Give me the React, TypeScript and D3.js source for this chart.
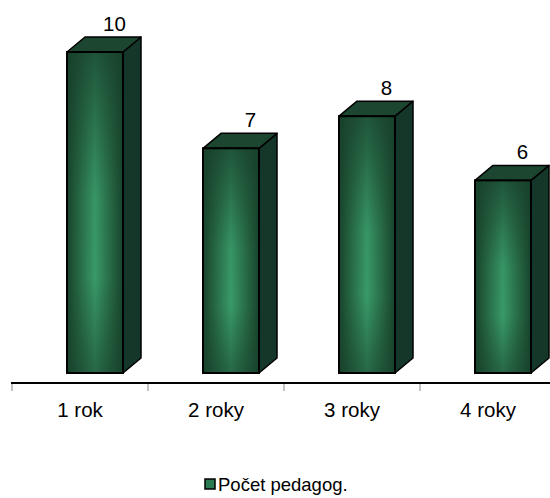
import React from "react";
import * as d3 from "d3";

const categories = ["1 rok", "2 roky", "3 roky", "4 roky"];
const values = [10, 7, 8, 6];
const seriesName = "Počet pedagog.";

const W = 550;
const H = 498;
const DX = 18;
const DY = -15;

export default function App() {
  const x = d3.scaleBand<string>().domain(categories).range([12, 556]).paddingInner(0).paddingOuter(0);
  const y = d3.scaleLinear().domain([0, 10]).range([373, 52]);
  const frontW = 56;
  const frontOffset = 55;
  const font = "'Liberation Sans', Arial, sans-serif";

  return (
    <svg width={W} height={H} style={{ position: "absolute", left: 0, top: 0 }}>
      <defs>
        <linearGradient id="frontH" x1="0" x2="1" y1="0" y2="0">
          <stop offset="0" stopColor="#17442d" />
          <stop offset="0.15" stopColor="#225d3c" />
          <stop offset="0.5" stopColor="#399a69" />
          <stop offset="0.85" stopColor="#225d3c" />
          <stop offset="1" stopColor="#17442d" />
        </linearGradient>
        <linearGradient id="frontV" x1="0" x2="0" y1="0" y2="1">
          <stop offset="0" stopColor="#173e2a" stopOpacity="0.75" />
          <stop offset="0.45" stopColor="#173e2a" stopOpacity="0.05" />
          <stop offset="0.7" stopColor="#173e2a" stopOpacity="0" />
          <stop offset="1" stopColor="#173e2a" stopOpacity="0.55" />
        </linearGradient>
      </defs>
      <rect width={W} height={H} fill="#ffffff" />
      {categories.map((c, i) => {
        const x0 = (x(c) as number) + frontOffset;
        const x1 = x0 + frontW;
        const yt = y(values[i]);
        const yb = y(0);
        return (
          <g key={c}>
            <polygon
              points={`${x1},${yt} ${x1 + DX},${yt + DY} ${x1 + DX},${yb + DY} ${x1},${yb}`}
              fill="#15372a"
              stroke="#000"
              strokeWidth={1.5}
              strokeLinejoin="round"
            />
            <polygon
              points={`${x0},${yt} ${x0 + DX},${yt + DY} ${x1 + DX},${yt + DY} ${x1},${yt}`}
              fill="#1d4631"
              stroke="#000"
              strokeWidth={1.5}
              strokeLinejoin="round"
            />
            <rect x={x0} y={yt} width={frontW} height={yb - yt} fill="url(#frontH)" />
            <rect x={x0} y={yt} width={frontW} height={yb - yt} fill="url(#frontV)" stroke="#000" strokeWidth={2} />
            <text
              x={x0 + DX + frontW / 2 + 1.5}
              y={yt + DY - 6}
              textAnchor="middle"
              fontFamily={font}
              fontSize={20.5}
              fill="#000"
            >
              {values[i]}
            </text>
          </g>
        );
      })}
      <line x1={11} x2={W} y1={383} y2={383} stroke="#000" strokeWidth={2} />
      {categories.map((c) => (
        <line key={c} x1={x(c) as number} x2={x(c) as number} y1={384} y2={391} stroke="#888" strokeWidth={1} />
      ))}
      {categories.map((c) => (
        <text
          key={c}
          x={(x(c) as number) + x.bandwidth() / 2}
          y={417}
          textAnchor="middle"
          fontFamily={font}
          fontSize={20.5}
          fill="#000"
        >
          {c}
        </text>
      ))}
      <rect x={205} y={479} width={10} height={10} fill="#2a7a52" stroke="#000" strokeWidth={1.5} />
      <text x={218} y={491} fontFamily={font} fontSize={18.5} fill="#000">
        {seriesName}
      </text>
    </svg>
  );
}
